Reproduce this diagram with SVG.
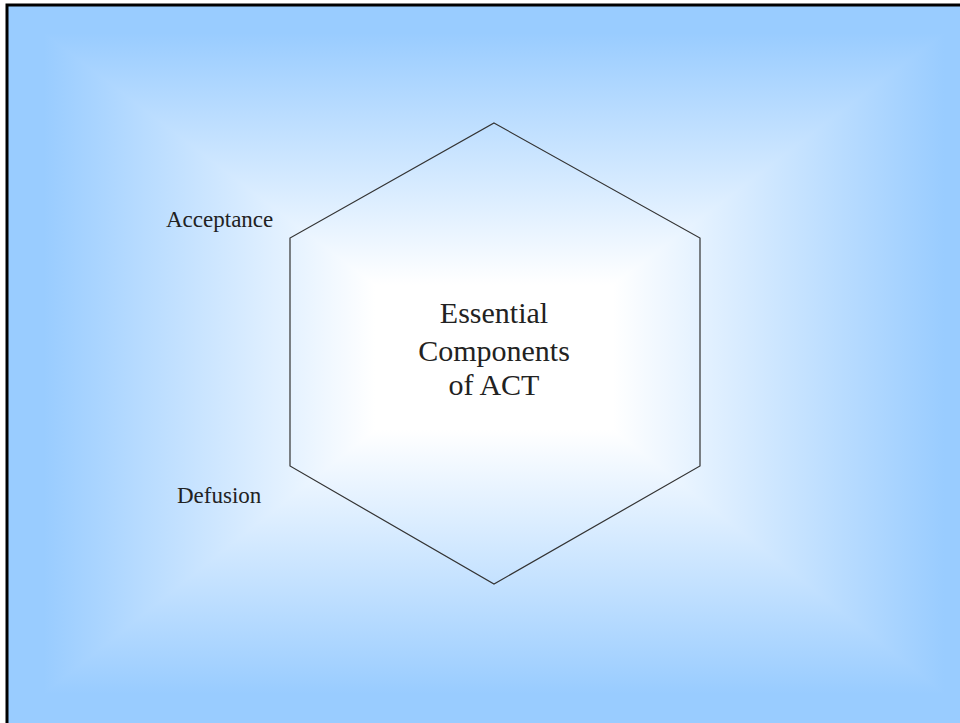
<svg xmlns="http://www.w3.org/2000/svg" width="960" height="723" viewBox="0 0 960 723">
  <style>
    .lbl { font-family: "Liberation Serif", "Times New Roman", serif; fill: #222; }
    .side { font-size: 23px; }
    .main { font-size: 30px; text-anchor: middle; }
    .hex { fill: none; stroke: #333; stroke-width: 1.2; }
  </style>
  <defs>
    <linearGradient id="gl" gradientUnits="userSpaceOnUse" x1="7" y1="0" x2="375" y2="0">
      <stop offset="0" stop-color="#99CCFF"/>
      <stop offset="0.1" stop-color="#99CCFF"/>
      <stop offset="1" stop-color="#FFFFFF"/>
    </linearGradient>
    <linearGradient id="gr" gradientUnits="userSpaceOnUse" x1="981" y1="0" x2="613" y2="0">
      <stop offset="0" stop-color="#99CCFF"/>
      <stop offset="0.1" stop-color="#99CCFF"/>
      <stop offset="1" stop-color="#FFFFFF"/>
    </linearGradient>
    <linearGradient id="gt" gradientUnits="userSpaceOnUse" x1="0" y1="5" x2="0" y2="285">
      <stop offset="0" stop-color="#99CCFF"/>
      <stop offset="0.1" stop-color="#99CCFF"/>
      <stop offset="1" stop-color="#FFFFFF"/>
    </linearGradient>
    <linearGradient id="gb" gradientUnits="userSpaceOnUse" x1="0" y1="723" x2="0" y2="430">
      <stop offset="0" stop-color="#99CCFF"/>
      <stop offset="0.1" stop-color="#99CCFF"/>
      <stop offset="1" stop-color="#FFFFFF"/>
    </linearGradient>
  </defs>
  <rect x="0" y="0" width="960" height="723" fill="#FFFFFF"/>
  <g id="background">
    <rect x="7" y="5" width="368" height="718" fill="url(#gl)"/>
    <rect x="613" y="5" width="368" height="718" fill="url(#gr)"/>
    <rect x="375" y="5" width="238" height="718" fill="#FFFFFF"/>
    <polygon points="7,5 981,5 613,285 375,285" fill="url(#gt)"/>
    <polygon points="7,723 981,723 613,430 375,430" fill="url(#gb)"/>
    <path d="M7,730 V5 H970" fill="none" stroke="#000" stroke-width="3"/>
  </g>
  <g id="hexagon">
    <polygon class="hex" points="494,123 700,238 700,466 494,584 290,466 290,238"/>
    <text class="lbl main" x="494" y="323">Essential</text>
    <text class="lbl main" x="494" y="361">Components</text>
    <text class="lbl main" x="494" y="395">of ACT</text>
  </g>
  <g id="acceptance">
    <text class="lbl side" x="166" y="227">Acceptance</text>
  </g>
  <g id="defusion">
    <text class="lbl side" x="177" y="503">Defusion</text>
  </g>
  <g id="connectors"/>
</svg>
